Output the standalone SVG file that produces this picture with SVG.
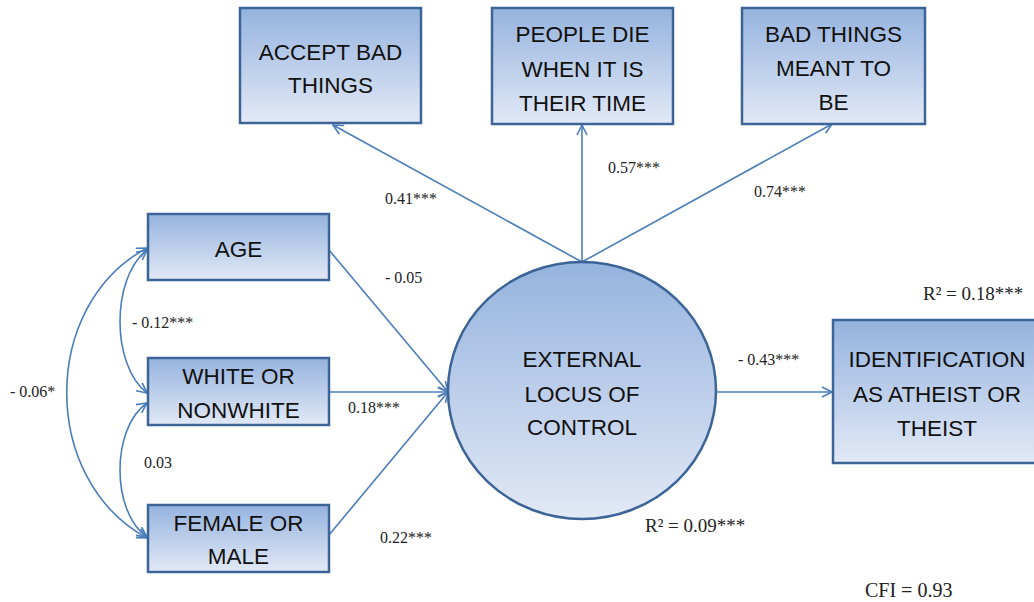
<svg xmlns="http://www.w3.org/2000/svg" width="1034" height="602" viewBox="0 0 1034 602">
<style>
.box{stroke:#3D6497;stroke-width:2.5;fill:url(#g)}
.node text{font-family:"Liberation Sans",Arial,sans-serif;font-size:22.5px;fill:#111;text-anchor:middle}
.c{fill:none;stroke:#4A7EBB;stroke-width:1.6}
.lbl{font-family:"Liberation Serif","Times New Roman",serif;font-size:16px;fill:#222}
.big{font-size:19px}
</style>
<defs>
<linearGradient id="g" x1="0" y1="0" x2="0" y2="1">
<stop offset="0" stop-color="#95B3DE"/>
<stop offset="1" stop-color="#E2E9F6"/>
</linearGradient>
<marker id="a" viewBox="0 0 12 12" refX="11" refY="6" markerWidth="12" markerHeight="12" markerUnits="userSpaceOnUse" orient="auto-start-reverse">
<path d="M1,1 L11,6 L1,11" fill="none" stroke="#4A7EBB" stroke-width="1.6"/>
</marker>
</defs>
<rect width="1034" height="602" fill="#fff"/>
<g id="connectors">
<line class="c" x1="582" y1="262" x2="333" y2="125" marker-end="url(#a)"/>
<line class="c" x1="582" y1="262" x2="582" y2="125" marker-end="url(#a)"/>
<line class="c" x1="582" y1="262" x2="832" y2="124" marker-end="url(#a)"/>
<line class="c" x1="329" y1="250" x2="448" y2="392" marker-end="url(#a)"/>
<line class="c" x1="329" y1="392" x2="448" y2="392" marker-end="url(#a)"/>
<line class="c" x1="329" y1="535" x2="448" y2="392" marker-end="url(#a)"/>
<line class="c" x1="716" y1="392" x2="832" y2="392" marker-end="url(#a)"/>
<path class="c" d="M147,250 C111,278 111,365 147,393" marker-start="url(#a)" marker-end="url(#a)"/>
<path class="c" d="M147,403 C111,428 111,512 147,537" marker-start="url(#a)" marker-end="url(#a)"/>
<path class="c" d="M147,248 C40,305 40,480 147,538" marker-start="url(#a)" marker-end="url(#a)"/>
</g>
<g id="accept" class="node">
<rect class="box" x="240" y="8" width="181" height="115"/>
<text x="330.5" y="60">ACCEPT BAD</text>
<text x="330.5" y="93">THINGS</text>
</g>
<g id="people" class="node">
<rect class="box" x="492" y="8" width="181" height="116"/>
<text x="582.5" y="42">PEOPLE DIE</text>
<text x="582.5" y="76.5">WHEN IT IS</text>
<text x="582.5" y="111">THEIR TIME</text>
</g>
<g id="meant" class="node">
<rect class="box" x="742" y="8" width="183" height="116"/>
<text x="833.5" y="42">BAD THINGS</text>
<text x="833.5" y="76">MEANT TO</text>
<text x="833.5" y="110">BE</text>
</g>
<g id="age" class="node">
<rect class="box" x="148" y="214" width="181" height="66"/>
<text x="238.5" y="257">AGE</text>
</g>
<g id="white" class="node">
<rect class="box" x="148" y="358" width="181" height="67"/>
<text x="238.5" y="384">WHITE OR</text>
<text x="238.5" y="418">NONWHITE</text>
</g>
<g id="female" class="node">
<rect class="box" x="148" y="505" width="181" height="67"/>
<text x="238.5" y="531">FEMALE OR</text>
<text x="238.5" y="564">MALE</text>
</g>
<g id="locus" class="node">
<ellipse class="box" cx="582" cy="390.5" rx="134" ry="128.5"/>
<text x="582" y="367">EXTERNAL</text>
<text x="582" y="402">LOCUS OF</text>
<text x="582" y="435">CONTROL</text>
</g>
<g id="ident" class="node">
<rect class="box" x="833" y="320" width="208" height="143"/>
<text x="937" y="367">IDENTIFICATION</text>
<text x="937" y="402">AS ATHEIST OR</text>
<text x="937" y="436">THEIST</text>
</g>
<g id="labels">
<text class="lbl" x="385" y="204">0.41***</text>
<text class="lbl" x="608" y="173">0.57***</text>
<text class="lbl" x="754" y="197">0.74***</text>
<text class="lbl" x="385" y="283">- 0.05</text>
<text class="lbl" x="132" y="328">- 0.12***</text>
<text class="lbl" x="10" y="397">- 0.06*</text>
<text class="lbl" x="348" y="413">0.18***</text>
<text class="lbl" x="144" y="468">0.03</text>
<text class="lbl" x="380" y="543">0.22***</text>
<text class="lbl" x="738" y="365">- 0.43***</text>
<text class="lbl big" x="923" y="300">R² = 0.18***</text>
<text class="lbl big" x="645" y="532">R² = 0.09***</text>
<text class="lbl big" x="865" y="597" style="font-size:20px">CFI = 0.93</text>
</g>
</svg>
